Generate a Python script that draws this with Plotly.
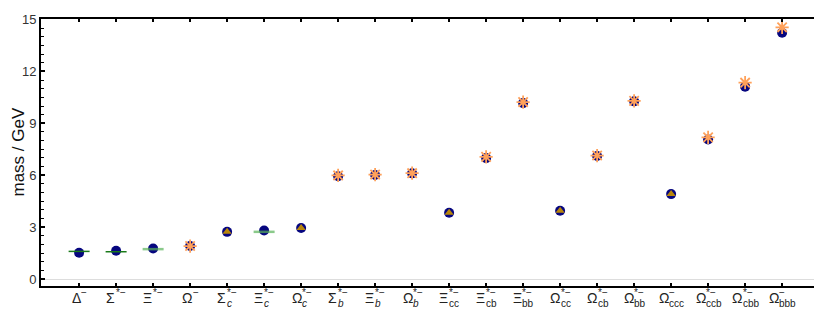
import plotly.graph_objects as go

label_base = ["Δ", "Σ", "Ξ", "Ω", "Σ", "Ξ", "Ω", "Σ", "Ξ", "Ω",
              "Ξ", "Ξ", "Ξ", "Ω", "Ω", "Ω", "Ω", "Ω", "Ω", "Ω"]
label_sub = ["", "", "", "", "<i>c</i>", "<i>c</i>", "<i>c</i>", "<i>b</i>", "<i>b</i>", "<i>b</i>",
             "cc", "cb", "bb", "cc", "cb", "bb", "ccc", "ccb", "cbb", "bbb"]
label_sup = ["−", "*−", "*−", "−", "*−", "*−", "*−", "*−", "*−", "*−",
             "*−", "*−", "*−", "*−", "*−", "*−", "−", "*−", "*−", "−"]
xpos = list(range(len(label_base)))

model_mass = [1.52, 1.64, 1.77, 1.91, 2.73, 2.81, 2.95, 5.94, 6.01, 6.11,
              3.83, 6.99, 10.17, 3.95, 7.11, 10.27, 4.91, 8.07, 11.12, 14.24]
star_mass = [None, None, None, 1.91, None, None, None, 5.99, 6.04, 6.12,
             None, 7.06, 10.23, None, 7.14, 10.30, None, 8.19, 11.35, 14.55]
tri_mass = [None, None, None, None, 2.73, None, 2.95, None, None, None,
            3.83, None, None, 3.95, None, None, 4.91, None, None, None]
exp_dark = [1.60, 1.58, None, None, None, None, None, None, None, None,
            None, None, None, None, None, None, None, None, None, None]
exp_light = [None, None, 1.73, None, None, 2.73, None, None, None, None,
             None, None, None, None, None, None, None, None, None, None]
y_ticks = [0, 3, 6, 9, 12, 15]

FONT = "Liberation Sans, Arial, sans-serif"
fig = go.Figure()
fig.add_trace(go.Scatter(x=xpos, y=model_mass, mode="markers",
                         marker=dict(symbol="circle", size=10, color="#06067f", line=dict(width=0))))
fig.add_trace(go.Scatter(x=xpos, y=exp_dark, mode="markers",
                         marker=dict(symbol="line-ew", size=15, line=dict(width=1.5, color="#1a7a1a"))))
fig.add_trace(go.Scatter(x=xpos, y=exp_light, mode="markers",
                         marker=dict(symbol="line-ew", size=15, line=dict(width=2.5, color="rgba(90,180,90,0.7)"))))
fig.add_trace(go.Scatter(x=xpos, y=tri_mass, mode="markers",
                         marker=dict(symbol="triangle-up", size=8, color="#b8860b", line=dict(width=0))))
fig.add_trace(go.Scatter(x=xpos, y=star_mass, mode="markers",
                         marker=dict(symbol="asterisk-open", size=11, line=dict(width=1.8, color="#ff8c00"))))

# approximate glyph widths (px) for centring stacked labels
base_w = {"Δ": 9.3, "Σ": 8.3, "Ξ": 8.4, "Ω": 10.5}
def small_w(s):
    s = s.replace("<i>", "").replace("</i>", "")
    w = 0
    for ch in s:
        w += {"c": 5.0, "b": 5.6, "*": 3.9, "−": 5.8}.get(ch, 5.0)
    return w

annotations = []
common_ann = dict(showarrow=False, borderpad=0, borderwidth=0, yanchor="middle")
for i in xpos:
    wb = base_w[label_base[i]]
    ws = max(small_w(label_sub[i]), small_w(label_sup[i]))
    d = -(wb + ws) / 2 + wb
    annotations.append(dict(x=i, y=0, xref="x", yref="paper", text=label_base[i],
                            xanchor="right", xshift=d, yshift=-12, **common_ann,
                            font=dict(family=FONT, size=14, color="#222")))
    annotations.append(dict(x=i, y=0, xref="x", yref="paper", text=label_sup[i],
                            xanchor="left", xshift=d + 0.5, yshift=-6, **common_ann,
                            font=dict(family=FONT, size=10, color="#222")))
    if label_sub[i]:
        annotations.append(dict(x=i, y=0, xref="x", yref="paper", text=label_sub[i],
                                xanchor="left", xshift=d + 0.5, yshift=-17, **common_ann,
                                font=dict(family=FONT, size=10, color="#222")))
annotations.append(dict(x=-23 / 777, y=0.5, xref="paper", yref="paper", text="mass / GeV", showarrow=False,
                        textangle=-90, xanchor="center", yanchor="middle", borderpad=0,
                        font=dict(family=FONT, size=17, color="#111")))

axis_common = dict(showline=True, linecolor="black", linewidth=2, mirror="allticks",
                   ticks="inside", tickcolor="black", showgrid=False, automargin=False)
fig.update_xaxes(**axis_common, tickmode="array", tickvals=xpos, showticklabels=False,
                 range=[-1.03, 19.97], ticklen=3, tickwidth=1.5, zeroline=False)
fig.update_yaxes(**axis_common, range=[-0.4, 15.03], tickmode="array", tickvals=y_ticks,
                 ticklen=4, tickwidth=1.5,
                 minor=dict(ticks="inside", dtick=0.5, ticklen=2.5, tickcolor="black", tickwidth=1, showgrid=False),
                 tickfont=dict(family=FONT, size=13, color="#333"),
                 zeroline=True, zerolinecolor="#dddddd", zerolinewidth=1)
# the page body has an 8px margin, so the figure is sized/margined to land the
# plot frame at the same pixels as the reference
fig.update_layout(width=814, height=323, margin=dict(l=33, r=4, t=11, b=45),
                  plot_bgcolor="white", paper_bgcolor="white", showlegend=False,
                  annotations=annotations)
fig.write_html("out.html")
